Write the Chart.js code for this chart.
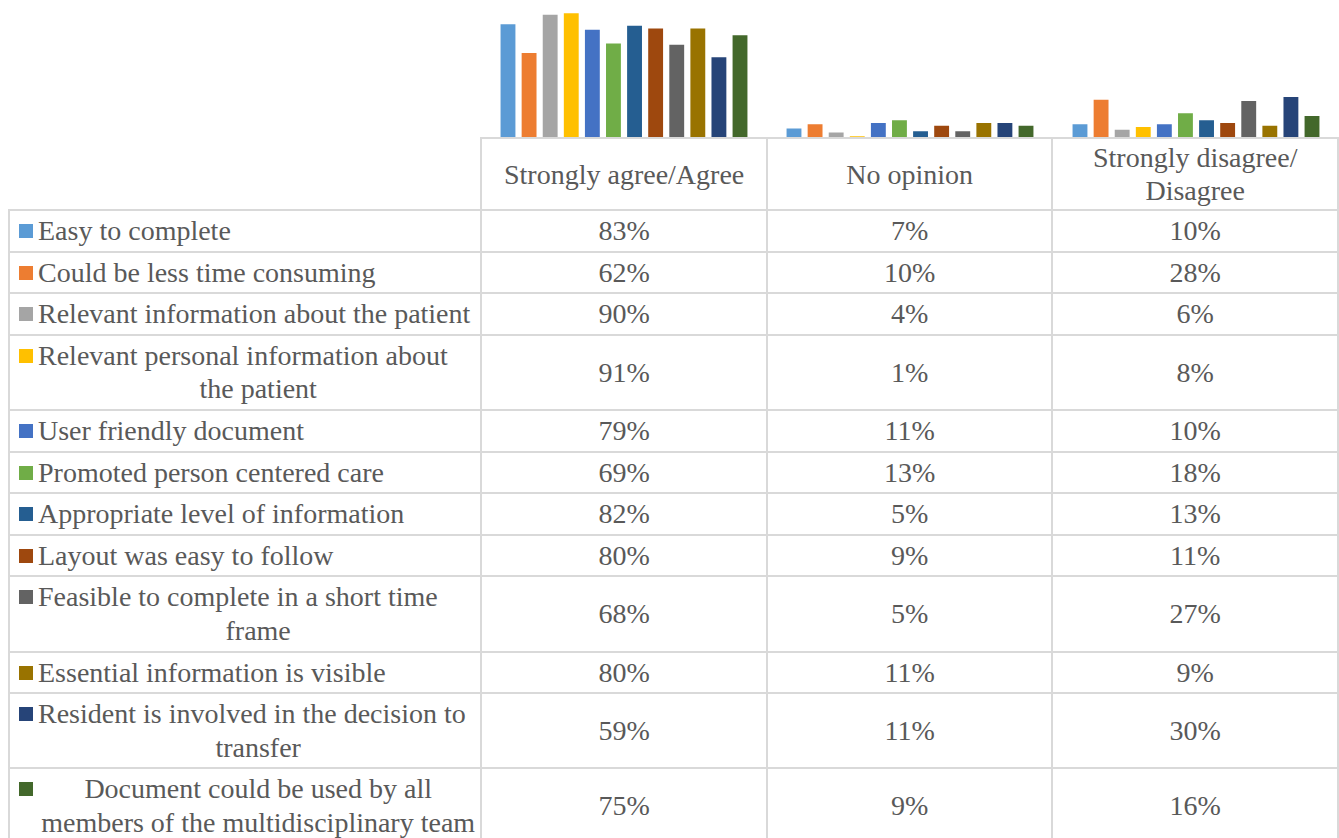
<!DOCTYPE html>
<html>
 <head>
  <title>Transfer document survey</title>
  <meta charset="utf-8">
  <script src="https://cdn.jsdelivr.net/npm/chart.js"></script>
  <style>
    body { margin: 0; background: #ffffff; width: 1339px; height: 838px; overflow: hidden; position: relative; }
    #chartBox { position: absolute; left: 481px; top: 0; }
    #dataTable { position: absolute; left: 8px; top: 137px; border-collapse: collapse; table-layout: fixed;
                 font-family: "Liberation Serif", "DejaVu Serif", serif; font-size: 28px; color: #595959; }
    #dataTable td { border: 2px solid #d9d9d9; text-align: center; vertical-align: middle; padding: 3px 0; line-height: 33.6px; }
    #dataTable td.head { padding: 2px 0; line-height: 33px; height: 66px; }
    #dataTable td.blank { border-top: none; border-left: none; }
    #dataTable td.label { position: relative; padding-left: 28px; padding-right: 2px; }
    .key { position: absolute; left: 9px; top: 13px; width: 14px; height: 14px; }
    .first { text-align: left; }
  </style>
 </head>
 <body>
  <div id="chartBox"><canvas id="myChart" width="858" height="137"></canvas></div>
  <table id="dataTable"></table>
  <script type="text/javascript">
    // answer categories (table columns)
    const categories = ['Strongly agree/Agree', 'No opinion', 'Strongly disagree/\nDisagree'];
    // statements (one series each), split where the table wraps them
    const statements = [
        ['Easy to complete'],
        ['Could be less time consuming'],
        ['Relevant information about the patient'],
        ['Relevant personal information about', 'the patient'],
        ['User friendly document'],
        ['Promoted person centered care'],
        ['Appropriate level of information'],
        ['Layout was easy to follow'],
        ['Feasible to complete in a short time', 'frame'],
        ['Essential information is visible'],
        ['Resident is involved in the decision to', 'transfer'],
        ['Document could be used by all', 'members of the multidisciplinary team']
    ];
    // percentages per category
    const agree     = [83, 62, 90, 91, 79, 69, 82, 80, 68, 80, 59, 75];
    const noOpinion = [ 7, 10,  4,  1, 11, 13,  5,  9,  5, 11, 11,  9];
    const disagree  = [10, 28,  6,  8, 10, 18, 13, 11, 27,  9, 30, 16];

    const colors = ['#5B9BD5', '#ED7D31', '#A5A5A5', '#FFC000', '#4472C4', '#70AD47',
                    '#255E91', '#9E480E', '#636363', '#997300', '#264478', '#43682B'];

    var ctx = document.getElementById('myChart').getContext('2d');
    var myChart = new Chart(ctx, {
        type: 'bar',
        data: {
            labels: categories,
            datasets: statements.map((s, i) => ({
                label: s.join(' '),
                data: [agree[i], noOpinion[i], disagree[i]],
                backgroundColor: colors[i],
                borderColor: 'rgba(255,255,255,0.55)',
                borderWidth: 1,
                barPercentage: 0.8,
                categoryPercentage: 0.885
            }))
        },
        options: {
            responsive: false,
            animation: false,
            layout: { padding: 0 },
            plugins: { legend: { display: false }, tooltip: { enabled: false } },
            scales: {
                x: { display: false },
                y: { display: false, min: 0, max: 100 }
            }
        }
    });

    // data table under the bars
    var table = document.getElementById('dataTable');
    var colgroup = document.createElement('colgroup');
    [473, 286, 286, 286].forEach(w => {
        var c = document.createElement('col');
        c.style.width = w + 'px';
        colgroup.appendChild(c);
    });
    table.appendChild(colgroup);

    var head = table.insertRow(-1);
    head.insertCell(-1).className = 'head blank';
    categories.forEach(c => {
        var cell = head.insertCell(-1);
        cell.className = 'head';
        cell.innerHTML = c.replace('\n', '<br>');
    });

    statements.forEach((lines, i) => {
        var row = table.insertRow(-1);
        var cell = row.insertCell(-1);
        cell.className = 'label';
        var key = document.createElement('div');
        key.className = 'key';
        key.style.background = colors[i];
        cell.appendChild(key);
        lines.forEach((t, j) => {
            var d = document.createElement('div');
            // Excel leaves the first line left aligned, except for the last item
            if (j == 0 && i < statements.length - 1) d.className = 'first';
            d.textContent = t;
            cell.appendChild(d);
        });
        [agree[i], noOpinion[i], disagree[i]].forEach(v => {
            row.insertCell(-1).textContent = v + '%';
        });
    });
  </script>
 </body>
</html>
